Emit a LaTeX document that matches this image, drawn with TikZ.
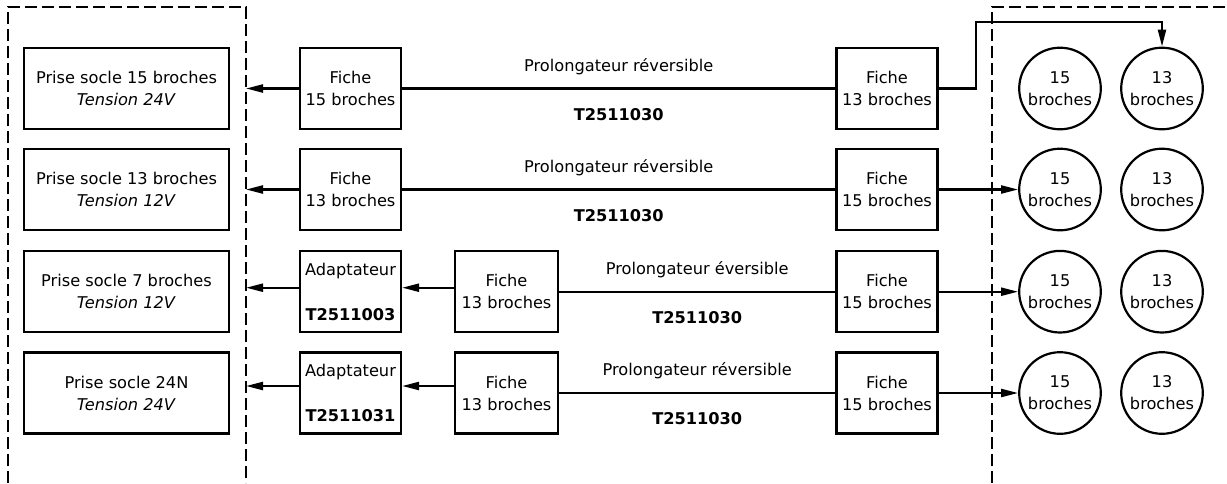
\documentclass[tikz,border=0pt]{standalone}
\usepackage{fontspec}
\setmainfont{DejaVu Sans}
\usetikzlibrary{positioning,arrows.meta}

\begin{document}
\begin{tikzpicture}[
  x=0.5pt, y=-0.5pt,
  font=\fontsize{8.1}{11}\selectfont,
  prise/.style={draw, line width=1.1pt, minimum width=102.5pt, minimum height=40.5pt, align=center, inner sep=1pt},
  fiche/.style={draw, line width=1.1pt, minimum width=50.5pt, minimum height=40.5pt, align=center, inner sep=1pt},
  broche/.style={draw, circle, line width=1.1pt, minimum size=40.8pt, inner sep=0pt, align=center},
  cadre/.style={line width=1pt, dash pattern=on 6pt off 2.5pt},
  fil/.style={line width=1.1pt},
  haut/.style={above=3pt},
  bas/.style={below=6pt, font=\fontsize{8.1}{11}\selectfont\bfseries},
  arr/.style={line width=1.1pt, -{Triangle[length=8.5pt, width=4pt]}}]
  \useasboundingbox (0,0) rectangle (1227,483);
  % cadres
  \draw[cadre] (8,483) -- (8,7) -- (246,7) -- (246,483);
  \draw[cadre] (992,483) -- (992,7) -- (1227,7);
  \coordinate (gauche) at (246,0);
  \coordinate (coude) at (976,22);
  % prises socle
  \node[prise] (p1) at (126.5,88.5) {Prise socle 15 broches\\\textit{Tension 24V}};
  \node[prise] (p2) at (126.5,189.5) {Prise socle 13 broches\\\textit{Tension 12V}};
  \node[prise] (p3) at (126.5,291.7) {Prise socle 7 broches\\\textit{Tension 12V}};
  \node[prise] (p4) at (126.5,393) {Prise socle 24N\\\textit{Tension 24V}};
  % fiches et adaptateurs
  \node[fiche] (f1) at (350.5,88.5) {Fiche\\15 broches};
  \node[fiche] (f2) at (350.5,189.5) {Fiche\\13 broches};
  \node[fiche] (a3) at (350.5,291.7) {Adaptateur\\[11.5pt]\textbf{T2511003}};
  \node[fiche] (a4) at (350.5,393) {Adaptateur\\[11.5pt]\textbf{T2511031}};
  \node[fiche, minimum width=51.5pt] (f3) at (506.5,291.7) {Fiche\\13 broches};
  \node[fiche, minimum width=51.5pt] (f4) at (506.5,393) {Fiche\\13 broches};
  \node[fiche] (d1) at (887,88.5) {Fiche\\13 broches};
  \node[fiche] (d2) at (887,189.5) {Fiche\\15 broches};
  \node[fiche] (d3) at (887,291.7) {Fiche\\15 broches};
  \node[fiche] (d4) at (887,393) {Fiche\\15 broches};
  % broches cote droit
  \node[broche] (c11) at (1060,88.5) {15\\broches};
  \node[broche] (c12) at (1162,88.5) {13\\broches};
  \node[broche] (c21) at (1060,189.5) {15\\broches};
  \node[broche] (c22) at (1162,189.5) {13\\broches};
  \node[broche] (c31) at (1060,291.7) {15\\broches};
  \node[broche] (c32) at (1162,291.7) {13\\broches};
  \node[broche] (c41) at (1060,393) {15\\broches};
  \node[broche] (c42) at (1162,393) {13\\broches};
  % prolongateurs
  \draw[fil] (f1) -- node[haut] (l1) {Prolongateur réversible} node[bas] (r1) {T2511030} (d1);
  \draw[fil] (f2) -- node[haut] (l2) {Prolongateur réversible} node[bas] (r2) {T2511030} (d2);
  \draw[fil] (f3) -- node[haut] (l3) {Prolongateur éversible} node[bas] (r3) {T2511030} (d3);
  \draw[fil] (f4) -- node[haut] (l4) {Prolongateur réversible} node[bas] (r4) {T2511030} (d4);
  % fleches
  \draw[arr] (f1.west) -- (f1.west -| gauche);
  \draw[arr] (f2.west) -- (f2.west -| gauche);
  \draw[arr] ([yshift=2pt]a3.west) -- ([yshift=2pt]a3.west -| gauche);
  \draw[arr] ([yshift=3.5pt]a4.west) -- ([yshift=3.5pt]a4.west -| gauche);
  \draw[arr] ([yshift=2pt]f3.west) -- ([yshift=2pt]f3.west -| a3.east);
  \draw[arr] ([yshift=3.5pt]f4.west) -- ([yshift=3.5pt]f4.west -| a4.east);
  \draw[arr] (d1.east) -| (coude) -| (c12.north);
  \draw[arr] (d2) -- (c21);
  \draw[arr] (d3) -- (c31);
  \draw[arr] (d4) -- (c41);
\end{tikzpicture}
\end{document}
